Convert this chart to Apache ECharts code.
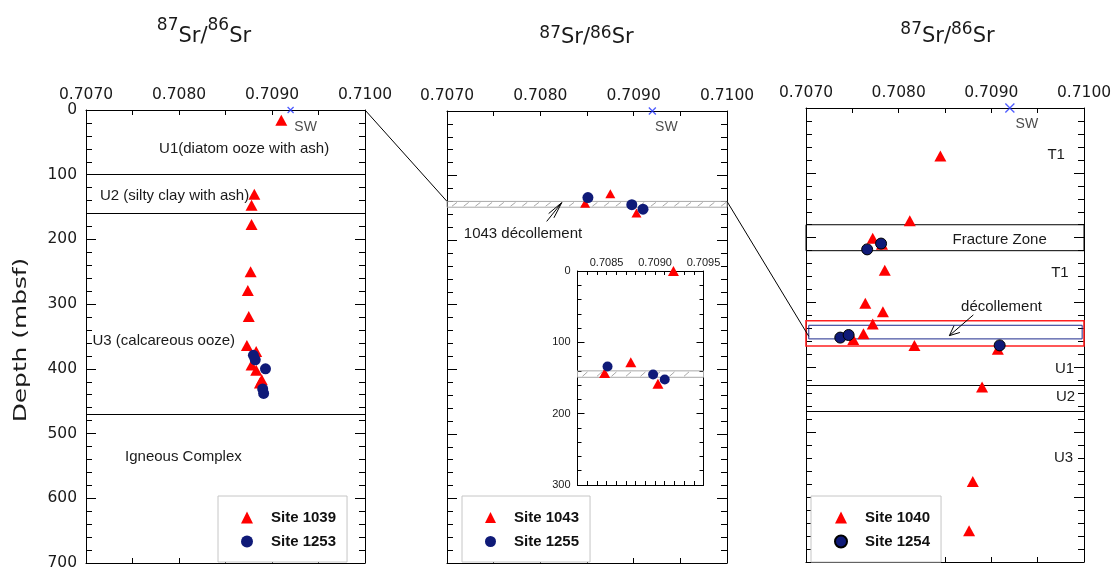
<!DOCTYPE html>
<html>
<head>
<meta charset="utf-8">
<script src="https://cdn.jsdelivr.net/npm/echarts@6/dist/echarts.min.js"></script>
<style>
html, body { margin: 0; padding: 0; background: #fff; }
#chart { width: 1115px; height: 571px; }
</style>
</head>
<body>
<div id="chart"></div>
<script>
// 87Sr/86Sr of pore fluids versus depth (mbsf): [ratio, depth]
const site1039 = [[0.70910, 16], [0.70881, 130], [0.70878, 147], [0.70878, 177], [0.70877, 250],
  [0.70874, 279], [0.70875, 319], [0.70873, 364], [0.70883, 373], [0.70878, 394],
  [0.70883, 402], [0.70889, 417], [0.70887, 422]];
const site1253 = [[0.70880, 379], [0.70882, 386], [0.70893, 400], [0.70890, 431], [0.70891, 438]];

const site1043 = [[0.70848, 143], [0.70875, 128], [0.70903, 158]];
const site1255 = [[0.70851, 134], [0.70898, 145], [0.70910, 152]];
const site1043Top = [[0.70919, 0]];

const site1040 = [[0.70845, 74], [0.70812, 174], [0.70772, 201], [0.70782, 210], [0.70785, 250],
  [0.70764, 301], [0.70783, 314], [0.70772, 333], [0.70762, 348], [0.70751, 357],
  [0.70817, 366], [0.70907, 372], [0.70890, 430], [0.70880, 576], [0.70876, 652]];
const site1254 = [[0.70766, 218], [0.70781, 209], [0.70737, 354], [0.70746, 350], [0.70909, 366]];

const seawater = [[0.70920, 0]];

// lithologic / structural boundaries (mbsf)
const units1039 = [100, 160, 470];
const units1040 = [427, 468];
const fractureZone = [180, 220];
const decollement1040 = [328, 367];
const decollement1254 = [335, 356];
const decollement1043 = [140, 149];

// axis ranges
const ratioRange = [0.7070, 0.7100];
const insetRatioRange = [0.7082, 0.7095];
const depthRange = [0, 700];
const insetDepthRange = [0, 300];

const RED = '#ff0000', NAVY = '#0f1a78', BLUE = '#2233ff', INK = '#1a1a1a';
const AX_FONT = 'DejaVu Sans', TX_FONT = 'Liberation Sans';

const grids = [
  { left: 86, top: 110, width: 279, height: 453 },
  { left: 447, top: 111, width: 280, height: 452 },
  { left: 806, top: 108, width: 278, height: 454 },
  { left: 577.5, top: 271, width: 126, height: 214 }
];

function xAxisPair(gi, range, interval, minorSplit, tickLen, label) {
  const base = {
    type: 'value', gridIndex: gi, min: range[0], max: range[1], interval: interval,
    splitLine: { show: false },
    axisLine: { show: true, onZero: false, lineStyle: { color: '#000', width: 1 } },
    axisTick: { show: true, inside: true, length: tickLen, lineStyle: { color: '#000', width: 1 } },
    minorTick: { show: minorSplit > 0, splitNumber: minorSplit || 1, length: tickLen, lineStyle: { color: '#000', width: 1 } }
  };
  return [
    Object.assign({}, base, { position: 'top', axisLabel: label }),
    Object.assign({}, base, { position: 'bottom', axisLabel: { show: false } })
  ];
}

function yAxisPair(gi, range, majorLen, minorLen, label) {
  const base = {
    type: 'value', gridIndex: gi, min: range[0], max: range[1], interval: 100, inverse: true,
    splitLine: { show: false },
    axisLine: { show: true, onZero: false, lineStyle: { color: '#000', width: 1 } },
    axisTick: { show: true, inside: true, length: majorLen, lineStyle: { color: '#000', width: 1 } },
    minorTick: { show: true, splitNumber: 5, length: minorLen, lineStyle: { color: '#000', width: 1 } }
  };
  return [
    Object.assign({}, base, { position: 'left', axisLabel: label }),
    Object.assign({}, base, { position: 'right', axisLabel: { show: false } })
  ];
}

const mainXLabel = {
  show: true, margin: 7, color: INK, fontFamily: AX_FONT, fontSize: 15.5,
  formatter: v => v.toFixed(4)
};
const insetXLabel = {
  show: true, margin: 3, color: INK, fontFamily: TX_FONT, fontSize: 11,
  formatter: v => Math.abs(v * 2000 - Math.round(v * 2000)) < 1e-6 ? v.toFixed(4) : ''
};
const mainYLabel = { show: true, margin: 9, color: INK, fontFamily: AX_FONT, fontSize: 15.5 };
const insetYLabel = { show: true, margin: 7, color: INK, fontFamily: TX_FONT, fontSize: 11 };

const xAxes = [].concat(
  xAxisPair(0, ratioRange, 0.001, 2, 5, mainXLabel),
  xAxisPair(1, ratioRange, 0.001, 2, 5, mainXLabel),
  xAxisPair(2, ratioRange, 0.001, 2, 5, mainXLabel),
  xAxisPair(3, insetRatioRange, 0.0001, 0, 4, insetXLabel)
);
const yAxes = [].concat(
  yAxisPair(0, depthRange, 10, 6, mainYLabel),
  yAxisPair(1, depthRange, 10, 6, { show: false }),
  yAxisPair(2, depthRange, 10, 6, { show: false }),
  yAxisPair(3, insetDepthRange, 7, 4, insetYLabel)
);

const tri = 'triangle';

function scatter(name, gi, data, symbol, size, color, extra) {
  return Object.assign({
    name: name, type: 'scatter', xAxisIndex: 2 * gi, yAxisIndex: 2 * gi,
    data: data, symbol: symbol, symbolSize: size, z: 5,
    itemStyle: { color: color, opacity: 1 }, silent: true
  }, extra || {});
}

function unitLines(values) {
  return {
    silent: true, symbol: ['none', 'none'], label: { show: false },
    lineStyle: { color: '#000', width: 1, type: 'solid' },
    emphasis: { disabled: true },
    data: values.map(v => ({ yAxis: v }))
  };
}

function swSeries(gi, size, offset) {
  return {
    name: 'SW', type: 'scatter', xAxisIndex: 2 * gi, yAxisIndex: 2 * gi, data: seawater, z: 6,
    symbol: 'path://M0,0L10,10M10,0L0,10', symbolSize: size, silent: true,
    itemStyle: { color: BLUE, borderColor: BLUE, borderWidth: 1.3 },
    label: {
      show: true, formatter: 'SW', position: 'inside', offset: offset,
      fontFamily: TX_FONT, fontSize: 14, color: INK
    }
  };
}

// hatched décollement band spanning the whole panel width
function hatchBand(gi, band, step, xRef) {
  return {
    type: 'custom', xAxisIndex: 2 * gi, yAxisIndex: 2 * gi, z: 2, silent: true,
    data: [band],
    renderItem: function (params, api) {
      const cs = params.coordSys;
      const y0 = api.coord([xRef, api.value(0)])[1];
      const y1 = api.coord([xRef, api.value(1)])[1];
      const children = [{
        type: 'rect', shape: { x: cs.x, y: y0, width: cs.width, height: y1 - y0 },
        style: { fill: 'none', stroke: '#a8a8a8', lineWidth: 1 }
      }];
      for (let x = cs.x + 5; x + 5 < cs.x + cs.width; x += step) {
        children.push({
          type: 'line', shape: { x1: x, y1: y1 - 1, x2: x + 5, y2: y0 + 1 },
          style: { stroke: '#a8a8a8', lineWidth: 1 }
        });
      }
      return { type: 'group', children: children };
    }
  };
}

function boxArea(x0, x1, band, color, width) {
  return [{ xAxis: x0, yAxis: band[0], itemStyle: { color: 'rgba(0,0,0,0)', borderColor: color, borderWidth: width } },
          { xAxis: x1, yAxis: band[1] }];
}

const series = [
  // left panel
  scatter('Site 1039', 0, site1039, tri, [12, 11], RED, { markLine: unitLines(units1039) }),
  scatter('Site 1253', 0, site1253, 'circle', 11, NAVY),
  swSeries(0, 6, [15, 17]),
  // middle panel
  hatchBand(1, decollement1043, 11.7, 0.7085),
  scatter('Site 1043', 1, site1043, tri, [10, 9], RED),
  scatter('Site 1255', 1, site1255, 'circle', 11, NAVY),
  swSeries(1, 7, [14, 16]),
  // inset of the middle panel
  hatchBand(3, decollement1043, 14.5, 0.7088),
  scatter('Site 1043', 3, site1043.concat(site1043Top), tri, [11, 10], RED),
  scatter('Site 1255', 3, site1255, 'circle', 10, NAVY),
  // right panel
  scatter('Site 1040', 2, site1040, tri, [12, 11], RED, {
    markLine: unitLines(units1040),
    markArea: {
      silent: true, label: { show: false }, emphasis: { disabled: true },
      data: [
        boxArea(ratioRange[0], ratioRange[1], fractureZone, '#000', 1),
        boxArea(ratioRange[0], ratioRange[1], decollement1040, '#ff2020', 1.6),
        boxArea(0.70703, 0.70998, decollement1254, '#1c2a8c', 1)
      ]
    }
  }),
  scatter('Site 1254', 2, site1254, 'circle', 11, NAVY, {
    itemStyle: { color: NAVY, borderColor: '#000', borderWidth: 1, opacity: 1 }
  }),
  swSeries(2, 9, [17, 16])
];

function legendAt(left, top, names, icon) {
  return {
    data: names, orient: 'vertical', left: left, top: top, selectedMode: false,
    padding: [14, 11, 13, 23], itemWidth: icon, itemHeight: icon, itemGap: 9,
    borderColor: '#c6c6c6', borderWidth: 1, backgroundColor: '#fff',
    textStyle: { fontFamily: TX_FONT, fontSize: 15, fontWeight: 'bold', color: '#111', padding: [0, 0, 0, 13] }
  };
}

const chart = echarts.init(document.getElementById('chart'), null, { renderer: 'canvas' });
chart.setOption({
  animation: false,
  backgroundColor: '#fff',
  grid: grids.map(g => Object.assign({ containLabel: false }, g)),
  xAxis: xAxes,
  yAxis: yAxes,
  legend: [
    legendAt(218, 496, ['Site 1039', 'Site 1253'], 12),
    legendAt(462, 496, ['Site 1043', 'Site 1255'], 11),
    legendAt(811, 496, ['Site 1040', 'Site 1254'], 12)
  ],
  series: series
});

// ---- annotations placed in data coordinates ----
const px = (gi, x, y) => chart.convertToPixel({ xAxisIndex: 2 * gi, yAxisIndex: 2 * gi }, [x, y]);

function note(gi, x, y, text, align) {
  const p = px(gi, x, y);
  return {
    type: 'text', x: p[0], y: p[1], silent: true, z: 50,
    style: { text: text, fontFamily: TX_FONT, fontSize: 15, fill: INK, align: align || 'left', verticalAlign: 'middle' }
  };
}

function seg(p0, p1, color, width) {
  return {
    type: 'line', silent: true, z: 50,
    shape: { x1: p0[0], y1: p0[1], x2: p1[0], y2: p1[1] },
    style: { stroke: color || '#000', lineWidth: width || 1 }
  };
}

function arrow(p0, p1, headLen, headAng) {
  const a = Math.atan2(p1[1] - p0[1], p1[0] - p0[0]);
  const out = [seg(p0, p1)];
  [-1, 1].forEach(s => {
    out.push(seg(p1, [p1[0] - headLen * Math.cos(a + s * headAng), p1[1] - headLen * Math.sin(a + s * headAng)]));
  });
  return out;
}

// 87Sr/86Sr heading with superscript mass numbers
const measure = document.createElement('canvas').getContext('2d');
function heading(cx, baseMid, supMid) {
  const baseSize = 21, supSize = 17;
  const parts = [['87', supSize, supMid], ['Sr/', baseSize, baseMid], ['86', supSize, supMid], ['Sr', baseSize, baseMid]];
  const widths = parts.map(p => { measure.font = p[1] + 'px "' + AX_FONT + '"'; return measure.measureText(p[0]).width; });
  let x = cx - widths.reduce((a, b) => a + b, 0) / 2;
  return parts.map((p, i) => {
    const el = {
      type: 'text', x: x, y: p[2], silent: true,
      style: { text: p[0], fontFamily: AX_FONT, fontSize: p[1], fill: INK, align: 'left', verticalAlign: 'middle' }
    };
    x += widths[i];
    return el;
  });
}

const graphics = [].concat(
  heading(204, 36.4, 25.1),
  heading(586.5, 37.8, 33.1),
  heading(947.5, 36.1, 29.1),
  [{
    type: 'text', x: 21, y: 340, rotation: Math.PI / 2, scaleX: 1.38, silent: true,
    style: { text: 'Depth (mbsf)', fontFamily: AX_FONT, fontSize: 18, fill: INK, align: 'center', verticalAlign: 'middle' }
  }],
  // left panel units
  note(0, 0.70870, 60, 'U1(diatom ooze with ash)', 'center'),
  note(0, 0.70715, 133, 'U2 (silty clay with ash)'),
  note(0, 0.70707, 356, 'U3 (calcareous ooze)'),
  note(0, 0.70742, 536, 'Igneous Complex'),
  // middle panel
  note(1, 0.70718, 190, '1043 décollement'),
  arrow(px(1, 0.708068, 171), px(1, 0.708229, 142), 17, 0.2),
  // right panel
  note(2, 0.70970, 73, 'T1', 'center'),
  note(2, 0.70909, 203, 'Fracture Zone', 'center'),
  note(2, 0.70974, 254, 'T1', 'center'),
  note(2, 0.70911, 307, 'décollement', 'center'),
  note(2, 0.70979, 402, 'U1', 'center'),
  note(2, 0.70980, 446, 'U2', 'center'),
  note(2, 0.70978, 539, 'U3', 'center'),
  arrow(px(2, 0.708806, 319), px(2, 0.708547, 351), 11, 0.42),
  // connectors between panels
  seg(px(0, ratioRange[1], 0), px(1, ratioRange[0], decollement1043[0])),
  seg(px(1, ratioRange[1], decollement1043[0]), px(2, 0.70703, 352))
);

chart.setOption({ graphic: graphics });
</script>
</body>
</html>
